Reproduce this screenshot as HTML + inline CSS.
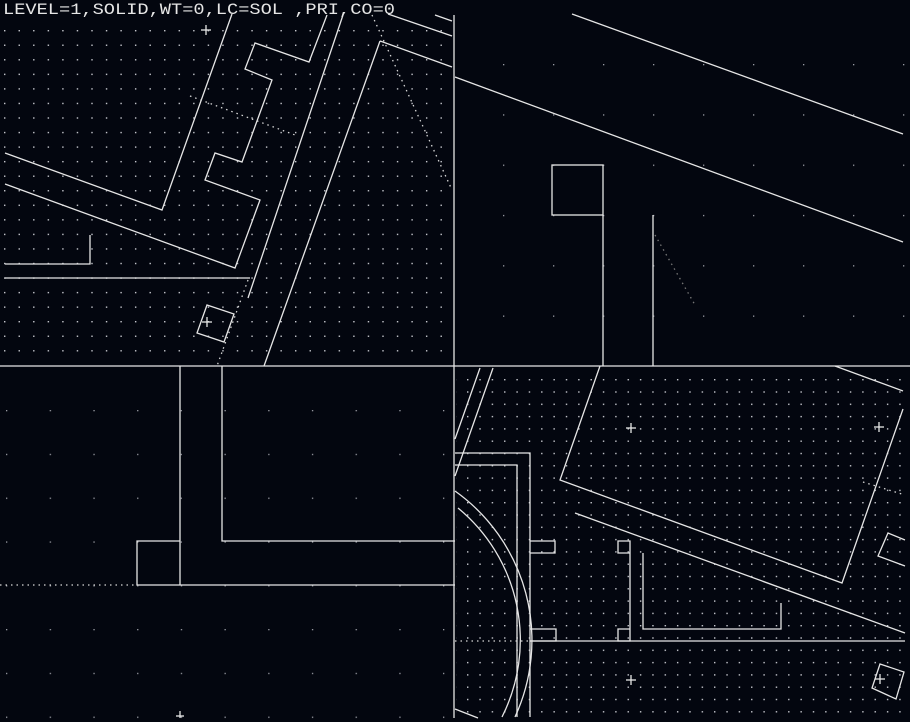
<!DOCTYPE html>
<html><head><meta charset="utf-8"><style>
html,body{margin:0;padding:0;background:#03060f;}
svg{display:block}
</style></head><body>
<svg width="910" height="722" viewBox="0 0 910 722" xmlns="http://www.w3.org/2000/svg">
<defs>
<pattern id="d1" x="4" y="30" width="14.55" height="14.55" patternUnits="userSpaceOnUse"><rect width="1.4" height="1.4" fill="#c8cad0"/></pattern>
<pattern id="d2" x="467" y="379" width="12.35" height="12.3" patternUnits="userSpaceOnUse"><rect width="1.4" height="1.4" fill="#c8cad0"/></pattern>
<pattern id="d3" x="503" y="64" width="50" height="50.3" patternUnits="userSpaceOnUse"><rect width="1.3" height="1.3" fill="#9a9ca4"/></pattern>
<pattern id="d4" x="6" y="410" width="43.7" height="43.8" patternUnits="userSpaceOnUse"><rect width="1.3" height="1.3" fill="#9a9ca4"/></pattern>
</defs>
<rect width="910" height="722" fill="#03060f"/>
<rect x="0" y="22" width="452" height="342" fill="url(#d1)"/>
<rect x="456" y="370" width="454" height="352" fill="url(#d2)"/>
<rect x="456" y="20" width="454" height="344" fill="url(#d3)"/>
<rect x="0" y="370" width="453" height="352" fill="url(#d4)"/>
<rect x="182" y="368" width="39" height="216" fill="#03060f"/>
<rect x="224" y="368" width="230" height="172" fill="#03060f" opacity="0"/>
<g stroke="#e6e6e6" stroke-width="1.3" fill="none">
<!-- frame lines -->
<line x1="0" y1="366" x2="910" y2="366"/>
<line x1="454" y1="15" x2="454" y2="718"/>
<!-- top-left -->
<polyline points="232,14 162,210 5,153"/>
<polyline points="5,184 235,268 260,200 205,180 215,153 242,162 272,80 245,69 255,43 309,62 327,15"/>
<line x1="343" y1="15" x2="248" y2="298"/>
<line x1="380" y1="41" x2="264" y2="366"/>
<line x1="380" y1="41" x2="452" y2="67"/>
<line x1="388" y1="14" x2="452" y2="36"/>
<line x1="435" y1="15" x2="452" y2="21"/>
<polyline points="90,235 90,264 5,264"/>
<line x1="5" y1="278" x2="250" y2="278"/>
<polygon points="207,305 234,314 224,342 197,333"/>
<line x1="202" y1="322" x2="212" y2="322"/><line x1="207" y1="317" x2="207" y2="327"/>
<line x1="201" y1="30" x2="211" y2="30"/><line x1="206" y1="25" x2="206" y2="35"/>
<!-- top-right -->
<line x1="455" y1="77" x2="903" y2="242"/>
<line x1="572" y1="14" x2="903" y2="134"/>
<rect x="552" y="165" width="51" height="50"/>
<line x1="603" y1="215" x2="603" y2="366"/>
<line x1="653" y1="215" x2="653" y2="366"/>
<!-- bottom-left -->
<line x1="180" y1="366" x2="180" y2="585"/>
<polyline points="222,366 222,541 455,541"/>
<polyline points="180,541 137,541 137,585 455,585"/>
<line x1="180" y1="711" x2="180" y2="718"/><line x1="176" y1="716" x2="184" y2="716"/>
<!-- bottom-right -->
<line x1="480" y1="368" x2="455" y2="439"/>
<line x1="493" y1="368" x2="455" y2="476"/>
<polyline points="455,453 530,453 530,717"/>
<polyline points="455,465 517,465 517,717"/>
<path d="M455,491 A183,183 0 0 1 515,717"/>
<path d="M458,508 A171,171 0 0 1 502,717"/>
<polyline points="530,541 555,541 555,553 530,553"/>
<polyline points="530,629 556,629 556,641 530,641"/>
<polyline points="630,553 618,553 618,541 630,541 630,641 618,641 618,629 630,629"/>
<polyline points="643,553 643,629 781,629 781,603"/>
<line x1="530" y1="641" x2="905" y2="641"/>
<polyline points="600,366 560,480 842,583 903,409"/>
<line x1="835" y1="366" x2="903" y2="391"/>
<line x1="575" y1="513" x2="905" y2="633"/>
<polyline points="905,540 888,533 878,556 905,566"/>
<polygon points="880,664 904,672 896,699 872,688"/>
<line x1="875" y1="679" x2="885" y2="679"/><line x1="880" y1="674" x2="880" y2="684"/>
<line x1="626" y1="428" x2="636" y2="428"/><line x1="631" y1="423" x2="631" y2="433"/>
<line x1="874" y1="427" x2="884" y2="427"/><line x1="879" y1="422" x2="879" y2="432"/>
<line x1="626" y1="680" x2="636" y2="680"/><line x1="631" y1="675" x2="631" y2="685"/>
<line x1="455" y1="709" x2="478" y2="718"/>
</g>
<g stroke="#d8d8d8" stroke-width="1.3" fill="none" stroke-dasharray="1.5 4">
<line x1="372" y1="15" x2="452" y2="190"/>
<line x1="190" y1="96" x2="295" y2="135"/>
<line x1="248" y1="280" x2="217" y2="366"/>
<line x1="0" y1="585" x2="137" y2="585"/>
<line x1="455" y1="641" x2="530" y2="641"/>
<line x1="863" y1="482" x2="905" y2="495"/>
<line x1="655" y1="235" x2="695" y2="305" stroke="#777"/>
</g>
<text x="3" y="14" fill="#e6e6e6" font-family="Liberation Mono, monospace" font-size="16" textLength="392" lengthAdjust="spacingAndGlyphs">LEVEL=1,SOLID,WT=0,LC=SOL ,PRI,CO=0</text>
</svg>
</body></html>
